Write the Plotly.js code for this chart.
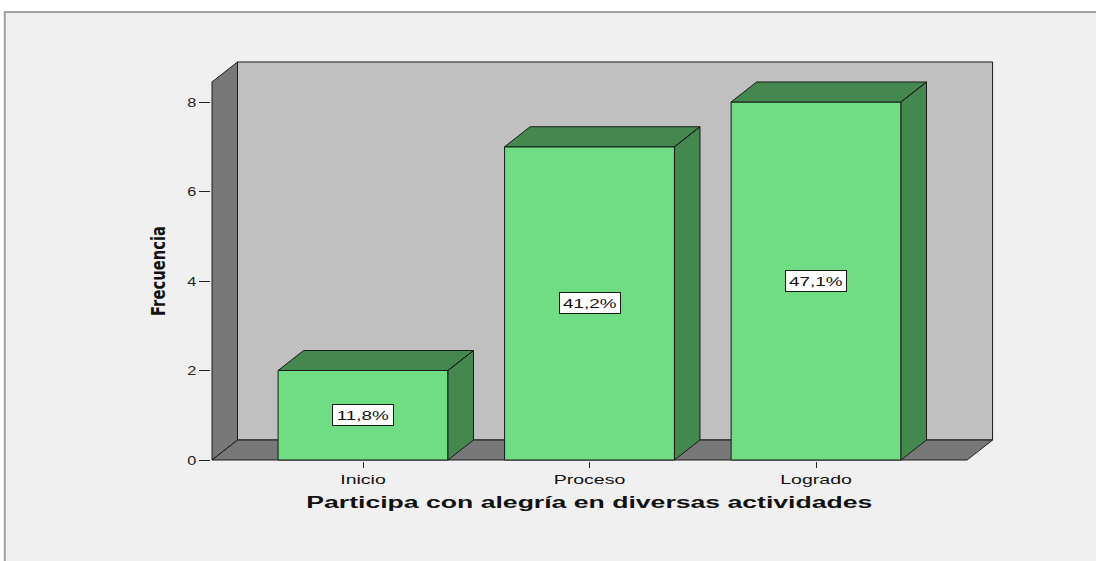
<!DOCTYPE html>
<html><head><meta charset="utf-8">
<script src="https://cdn.plot.ly/plotly-3.0.1.min.js"></script>
<style>html,body{margin:0;padding:0;background:#fff;} #chart{width:1096px;height:561px;}</style>
</head><body><div id="chart"></div>
<script>
// ---- data ----
const categories = ["Inicio", "Proceso", "Logrado"];
const frequencies = [2, 7, 8];
const percentLabels = ["11,8%", "41,2%", "47,1%"];
const yTickValues = [0, 2, 4, 6, 8];
const yTickText = ["0", "2", "4", "6", "8"];
const xAxisTitle = "Participa con alegría en diversas actividades";
const yAxisTitle = "Frecuencia";

// ---- 3D frame geometry (axis units) ----
const BAR_W = 0.75;
const X0 = -0.6667, X1 = 2.6667;   // front plane extent
const DX = 0.1126, DY = 0.447;     // depth offset
const YT = 8.447;                  // front top of the frame
const FRONT = '#70dc84', DARK = '#44884f', EDGE = '#1a1a1a';

const xIdx = categories.map((c, i) => i);
const hw = BAR_W / 2;
const fx = [], fy = [];
xIdx.forEach((i) => {
  const v = frequencies[i];
  // top face
  fx.push(i - hw, i - hw + DX, i + hw + DX, i + hw, i - hw, null);
  fy.push(v, v + DY, v + DY, v, v, null);
  // side face
  fx.push(i + hw, i + hw + DX, i + hw + DX, i + hw, i + hw, null);
  fy.push(v, v + DY, DY, 0, v, null);
});

const traces = [
  {type: 'bar', x: xIdx, y: frequencies, width: BAR_W,
   marker: {color: FRONT, line: {color: EDGE, width: 1}},
   hoverinfo: 'skip', showlegend: false},
  {type: 'scatter', mode: 'lines', x: fx, y: fy, fill: 'toself',
   fillcolor: DARK, line: {color: EDGE, width: 1},
   hoverinfo: 'skip', showlegend: false, connectgaps: false}
];

const annotations = xIdx.map((i) => ({
  x: i, y: frequencies[i] / 2, xref: 'x', yref: 'y', text: percentLabels[i],
  showarrow: false, bgcolor: '#ffffff', bordercolor: EDGE, borderwidth: 1,
  borderpad: 1, width: 58, height: 18,
  font: {family: 'Liberation Sans, Arial, sans-serif', size: 13, color: '#111'}
}));
annotations.push({
  x: (X0 + X1) / 2, xref: 'x', y: -0.104, yref: 'paper', text: xAxisTitle,
  showarrow: false, xanchor: 'center', yanchor: 'middle',
  font: {family: 'Liberation Sans, Arial, sans-serif', size: 16, weight: 'bold', color: '#111'}
});
annotations.push({
  x: -0.0676, xref: 'paper', y: YT / 2, yref: 'y', text: yAxisTitle,
  showarrow: false, textangle: -90, xanchor: 'center', yanchor: 'middle',
  font: {family: 'Liberation Sans Narrow, DejaVu Sans Condensed, Liberation Sans, sans-serif', size: 19, weight: 'bold', color: '#111'}
});

const shapes = [
  {type: 'rect', xref: 'paper', yref: 'paper', x0: -0.263, x1: 1.3, y0: -0.35, y1: 1.12,
   fillcolor: '#f0f0f0', line: {color: '#a0a0a0', width: 2}, layer: 'below'},
  {type: 'rect', xref: 'x', yref: 'y', x0: X0 + DX, x1: X1 + DX, y0: DY, y1: YT + DY,
   fillcolor: '#c0c0c0', line: {color: EDGE, width: 1}, layer: 'below'},
  {type: 'path', xref: 'x', yref: 'y',
   path: `M ${X0},0 L ${X0},${YT} L ${X0 + DX},${YT + DY} L ${X0 + DX},${DY} Z`,
   fillcolor: '#787878', line: {color: EDGE, width: 1}, layer: 'below'},
  {type: 'path', xref: 'x', yref: 'y',
   path: `M ${X0},0 L ${X0 + DX},${DY} L ${X1 + DX},${DY} L ${X1},0 Z`,
   fillcolor: '#787878', line: {color: EDGE, width: 1}, layer: 'below'}
];

const layout = {
  width: 1096, height: 561,
  margin: {l: 211, r: 101, t: 60, b: 100, pad: 0},
  paper_bgcolor: '#ffffff', plot_bgcolor: 'rgba(0,0,0,0)',
  showlegend: false, bargap: 0,
  xaxis: {range: [-0.6711, 2.790], tickvals: xIdx, ticktext: categories,
          showgrid: false, zeroline: false, showline: false,
          ticks: 'outside', ticklen: 6, tickwidth: 1, tickcolor: '#222',
          tickfont: {family: 'Liberation Sans, Arial, sans-serif', size: 13, color: '#111'},
          fixedrange: true},
  yaxis: {range: [-0.0223, 8.9385], tickvals: yTickValues, ticktext: yTickText,
          showgrid: false, zeroline: false, showline: false,
          ticks: 'outside', ticklen: 11, tickwidth: 1, tickcolor: '#222',
          tickfont: {family: 'Liberation Sans, Arial, sans-serif', size: 13, color: '#222'},
          fixedrange: true},
  shapes: shapes, annotations: annotations
};

function stretch(el, target) {
  const n = el.getComputedTextLength();
  if (n > 0) {
    el.setAttribute('textLength', target(n));
    el.setAttribute('lengthAdjust', 'spacingAndGlyphs');
  }
}

Plotly.newPlot('chart', traces, layout, {displayModeBar: false, staticPlot: true}).then((gd) => {
  gd.querySelectorAll('.xtick text').forEach((t) => stretch(t, (n) => n * 1.5));
  gd.querySelectorAll('.ytick text').forEach((t) => stretch(t, (n) => n * 1.25));
  gd.querySelectorAll('g.annotation text.annotation-text').forEach((t) => {
    const s = t.textContent;
    if (s === xAxisTitle) stretch(t, () => 566);
    else if (s === yAxisTitle) stretch(t, () => 90);
    else stretch(t, (n) => n * 1.45);
  });
});
</script>
</body></html>
